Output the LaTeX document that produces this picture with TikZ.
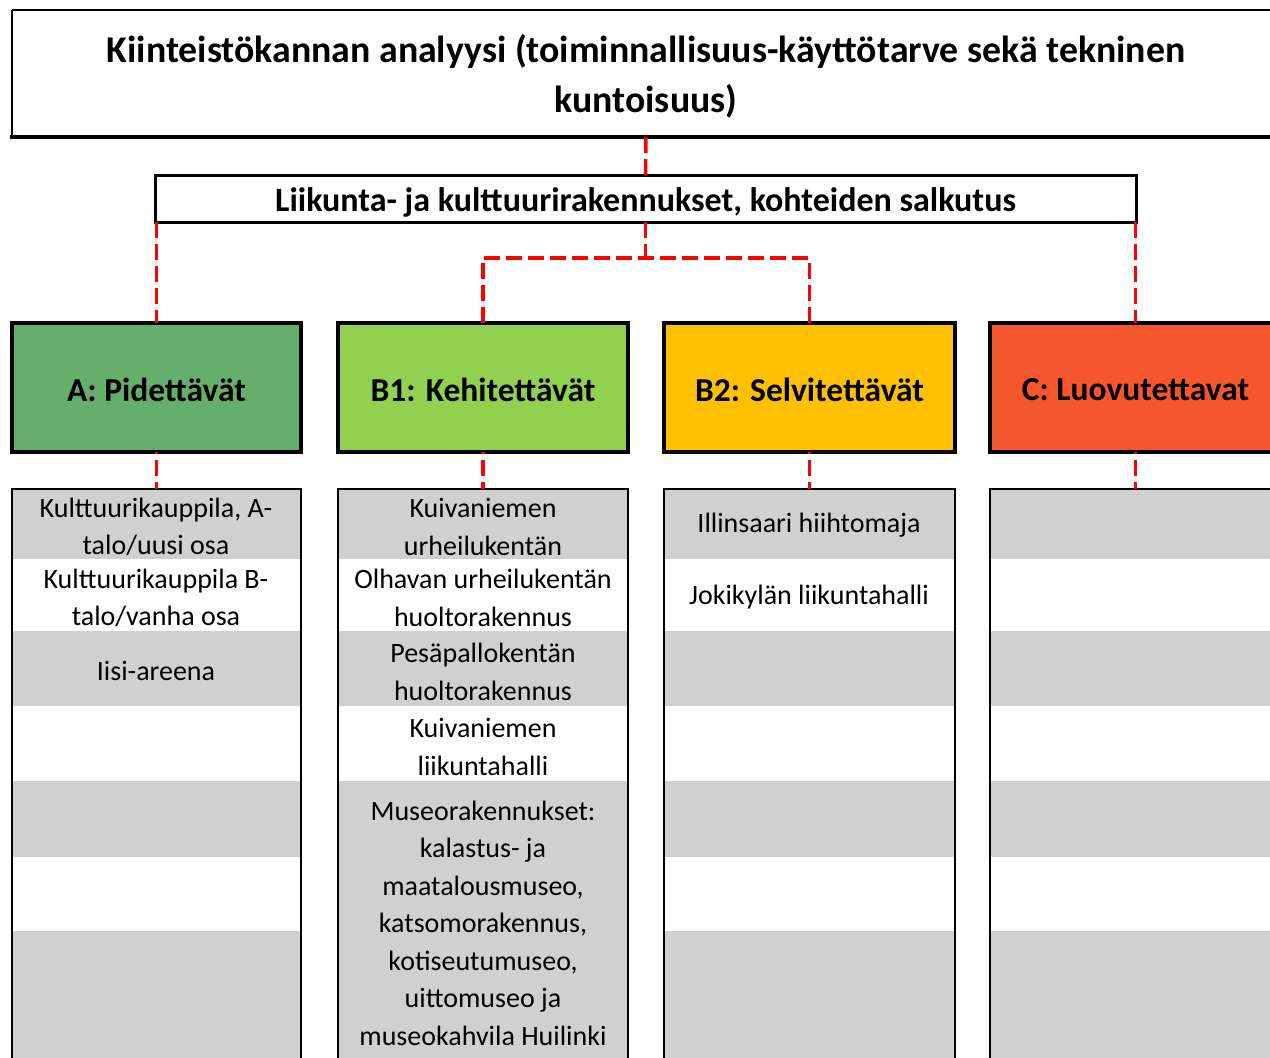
\documentclass[tikz,border=0pt]{standalone}
\usepackage{fontspec}
\setmainfont{Carlito}
\definecolor{catA}{HTML}{66AE6B}
\definecolor{catB}{HTML}{92D050}
\definecolor{catBB}{HTML}{FFC000}
\definecolor{catC}{HTML}{F6562E}
\definecolor{rowgray}{HTML}{D0D0D0}
\definecolor{connred}{HTML}{FF0000}
\tikzset{
  conn/.style={draw=connred, line width=3.5pt, dash pattern=on 16pt off 6pt},
  catbox/.style={draw=black, line width=4pt, anchor=north west, inner sep=0pt, outer sep=0pt,
    minimum height=129pt},
  catlabel/.style={inner sep=0pt, font=\fontsize{33.5}{38}\selectfont\bfseries},
  listcol/.style={anchor=north west, inner sep=0pt, outer sep=0pt, minimum height=600pt},
  colborder/.style={draw=black, line width=2pt},
  item/.style={align=center, inner sep=0pt, font=\fontsize{28}{37.5}\selectfont},
}
\begin{document}
\begin{tikzpicture}[x=1pt,y=-1pt]
\useasboundingbox (0,0) rectangle (1270,1058);
\clip (0,0) rectangle (1270,1058);
\fill[white] (0,0) rectangle (1270,1058);

% title box
\node[align=center, inner sep=0pt, font=\fontsize{37.8}{50}\selectfont\bfseries] (tt) at (646,76)
  {Kiinteistökannan analyysi (toiminnallisuus-käyttötarve sekä tekninen\\kuntoisuus)};
\draw[black, line width=1.5pt] (12,10) -- (1290,10);
\draw[black, line width=2pt] (12,10) -- (12,137);
\draw[black, line width=3.5pt] (10,137) -- (1290,137);
\coordinate (tb) at (646,137);

% portfolio box
\node[draw=black, line width=3pt, anchor=north west, minimum width=981pt, minimum height=47pt,
  inner sep=0pt, outer sep=0pt] (sub) at (155,175) {};
\node[font=\fontsize{34}{38}\selectfont\bfseries, inner sep=0pt] (subt) at ([yshift=-4pt]sub.center)
  {Liikunta- ja kulttuurirakennukset, kohteiden salkutus};

% categories
\node[catbox, fill=catA, minimum width=289pt] (a) at (12,323) {};
\node[catbox, fill=catB, minimum width=290pt] (b1) at (338,323) {};
\node[catbox, fill=catBB, minimum width=291pt] (b2) at (664,323) {};
\node[catbox, fill=catC, minimum width=291pt] (c) at (990,323) {};
\node[catlabel] (at) at ([yshift=-2pt]a.center) {A: Pidettävät};
\node[catlabel] (b1t) at ([yshift=-2pt]b1.center) {B1: Kehitettävät};
\node[catlabel] (b2t) at ([yshift=-2pt]b2.center) {B2: Selvitettävät};
\node[catlabel] (ct) at ([yshift=-2pt]c.center) {C: Luovutettavat};

% connectors
\draw[conn] (tb) -- (sub.north);
\draw[conn] (sub.south -| a.north) -- (a.north);
\draw[conn] (sub.south -| c.north) -- (c.north);
\draw[conn] (sub.south) -- ++(0,36) coordinate (j);
\draw[conn] (b1.north) |- (j) -| (b2.north);

% list columns
\node[listcol, minimum width=289pt] (la) at (12,489) {};
\node[listcol, minimum width=290pt] (lb1) at (338,489) {};
\node[listcol, minimum width=291pt] (lb2) at (664,489) {};
\node[listcol, minimum width=291pt] (lc) at (990,489) {};

\foreach \col in {la,lb2,lc}{
  \fill[rowgray] (\col.north west) rectangle (\col.north east |- 0,559);
  \fill[rowgray] (\col.north west |- 0,631) rectangle (\col.north east |- 0,706);
  \fill[rowgray] (\col.north west |- 0,781) rectangle (\col.north east |- 0,857);
  \fill[rowgray] (\col.north west |- 0,931) rectangle (\col.south east);
}
\fill[rowgray] (lb1.north west) rectangle (lb1.north east |- 0,559);
\fill[rowgray] (lb1.north west |- 0,631) rectangle (lb1.north east |- 0,706);
\fill[rowgray] (lb1.north west |- 0,781) rectangle (lb1.south east);

\foreach \col in {la,lb1,lb2,lc}{
  \draw[colborder] (\col.south west) -- (\col.north west) -- (\col.north east) -- (\col.south east);
}

\draw[conn, dash phase=14pt] (a.south) -- (la.north);
\draw[conn, dash phase=14pt] (b1.south) -- (lb1.north);
\draw[conn, dash phase=14pt] (b2.south) -- (lb2.north);
\draw[conn, dash phase=14pt] (c.south) -- (lc.north);

% items
\node[item] (a1) at (156,527) {Kulttuurikauppila, A-\\talo/uusi osa};
\node[item] (a2) at (156,598) {Kulttuurikauppila B-\\talo/vanha osa};
\node[item] (a3) at (156,671) {Iisi-areena};
\node[item] (b11) at (483,527) {Kuivaniemen\\urheilukentän};
\node[item] (b12) at (483,598) {Olhavan urheilukentän\\huoltorakennus};
\node[item] (b13) at (483,672) {Pesäpallokentän\\huoltorakennus};
\node[item] (b14) at (483,747) {Kuivaniemen\\liikuntahalli};
\node[item] (b15) at (483,923) {Museorakennukset:\\kalastus- ja\\maatalousmuseo,\\katsomorakennus,\\kotiseutumuseo,\\uittomuseo ja\\museokahvila Huilinki};
\node[item] (b21) at (809,525) {Illinsaari hiihtomaja};
\node[item] (b22) at (809,597) {Jokikylän liikuntahalli};
\end{tikzpicture}
\end{document}
